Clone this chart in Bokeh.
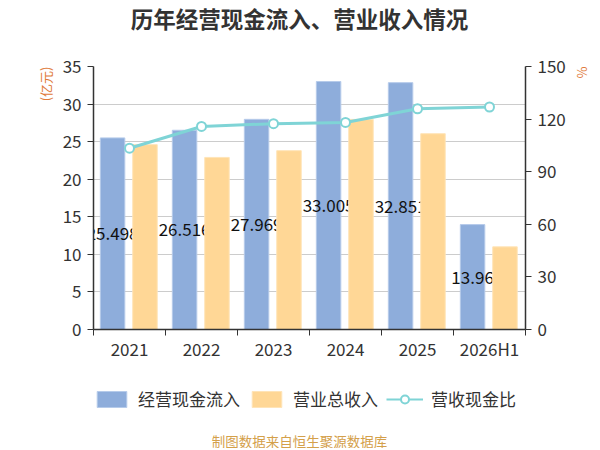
from bokeh.plotting import figure
from bokeh.models import (Range1d, LinearAxis, FixedTicker, Legend, LegendItem,
                          ColumnDataSource, Title, Label)
from bokeh.layouts import column
from bokeh.embed import file_html
from bokeh.resources import INLINE
from bokeh.core.properties import value

categories = ["2021", "2022", "2023", "2024", "2025", "2026H1"]
cash_inflow = [25.498, 26.516, 27.969, 33.005, 32.851, 13.96]
revenue = [24.6, 22.9, 23.8, 27.96, 26.06, 11.0]
ratio = [103.4, 115.8, 117.4, 118.1, 125.9, 126.9]
cash_labels = ["25.498", "26.516", "27.969", "33.005", "32.851", "13.96"]
left_ticks = [0, 5, 10, 15, 20, 25, 30, 35]
right_ticks = [0, 30, 60, 90, 120, 150]

FONT = "Noto Sans CJK SC"
BLUE = "#8eaddb"
ORANGE = "#ffd796"
CYAN = "#7fd4d6"
TXT = "#333333"

idx = list(range(len(categories)))
centers = [i + 0.5 for i in idx]
src = ColumnDataSource(dict(
    c=centers,
    xb=[c - 0.235 for c in centers],
    xo=[c + 0.215 for c in centers],
    cash=cash_inflow,
    half=[v / 2 for v in cash_inflow],
    rev=revenue,
    ratio=ratio,
    lab=cash_labels,
))


def strip(h):
    f = figure(width=598, height=h, output_backend="svg", toolbar_location=None,
               x_range=Range1d(100, 101), y_range=Range1d(100, 101),
               x_axis_location=None, y_axis_location=None,
               min_border_left=0, min_border_right=0, min_border_top=0,
               min_border_bottom=0)
    f.outline_line_color = None
    f.grid.grid_line_color = None
    return f


# title strip
p0 = strip(36)
p0.add_layout(Label(x=206, y=19, x_units="screen", y_units="screen",
                    text="历年经营现金流入、营业收入情况", text_align="center",
                    text_baseline="middle", text_font=FONT, text_font_size="22.5px",
                    text_font_style="bold", text_color=TXT))

# main chart
p = figure(width=598, height=334, output_backend="svg", toolbar_location=None,
           title=None,
           x_range=Range1d(0, len(categories)), y_range=Range1d(0, 35),
           min_border_left=93, min_border_right=66, min_border_top=30,
           min_border_bottom=41)
p.outline_line_color = None
p.extra_y_ranges = {"r": Range1d(0, 150)}

# x axis
p.xaxis.ticker = FixedTicker(ticks=centers, minor_ticks=list(range(len(categories) + 1)))
p.xaxis.major_label_overrides = {c: cat for c, cat in zip(centers, categories)}
p.xaxis.major_tick_out = 0
p.xaxis.major_tick_in = 0
p.xaxis.minor_tick_out = 6
p.xaxis.minor_tick_in = 0
p.xaxis.minor_tick_line_color = TXT
p.xaxis.major_label_standoff = 0
p.xgrid.grid_line_color = None

# left axis
p.yaxis.ticker = FixedTicker(ticks=left_ticks)
p.yaxis.minor_tick_line_color = None
p.yaxis.major_tick_out = 6
p.yaxis.major_tick_in = 0
p.yaxis.major_label_standoff = 6
p.ygrid.grid_line_color = "#cccccc"
p.ygrid.grid_line_width = 1

ra = LinearAxis(y_range_name="r", ticker=FixedTicker(ticks=right_ticks))
ra.minor_tick_line_color = None
ra.major_tick_out = 6
ra.major_tick_in = 0
ra.major_label_standoff = 6
p.add_layout(ra, "right")

for ax in [p.xaxis[0], p.yaxis[0], ra]:
    ax.axis_line_color = TXT
    ax.axis_line_width = 1.5
    ax.major_tick_line_color = TXT
    ax.major_label_text_font = FONT
    ax.major_label_text_font_size = "17px"
    ax.major_label_text_color = TXT

# bars
p.vbar(x="xb", top="cash", width=0.34, source=src, fill_color=BLUE,
       line_color="#b6cbea", line_width=1)
p.text(x="xb", y="half", text="lab", source=src, text_align="center",
       text_baseline="middle", text_font=value(FONT), text_font_size="17px",
       text_color="#111111")
p.vbar(x="xo", top="rev", width=0.34, source=src, fill_color=ORANGE,
       line_color="#ffe4b8", line_width=1)
p.line(x="c", y="ratio", source=src, y_range_name="r", line_color=CYAN,
       line_width=3)
p.scatter(x="c", y="ratio", source=src, y_range_name="r", size=9,
          fill_color="white", line_color=CYAN, line_width=2)

# unit labels
p.add_layout(Title(text="(亿元)", align="right", standoff=10, text_font=FONT,
                   text_font_size="13px", text_font_style="normal",
                   text_color="#e07a3a"), "left")
p.add_layout(Title(text="%", align="left", standoff=9, text_font=FONT,
                   text_font_size="13px", text_font_style="normal",
                   text_color="#e07a3a"), "right")

# legend strip
p2 = strip(58)
r1 = p2.vbar(x="xb", top="cash", width=0.34, source=src, fill_color=BLUE,
             line_color="#b6cbea")
r2 = p2.vbar(x="xo", top="rev", width=0.34, source=src, fill_color=ORANGE,
             line_color="#ffe4b8")
r3 = p2.line(x="c", y="ratio", source=src, line_color=CYAN, line_width=2)
r4 = p2.scatter(x="c", y="ratio", source=src, size=13, fill_color="white",
                line_color=CYAN, line_width=2)

legend = Legend(items=[
    LegendItem(label="经营现金流入", renderers=[r1]),
    LegendItem(label="营业总收入", renderers=[r2]),
    LegendItem(label="营收现金比", renderers=[r3, r4]),
], location=(0, 17), orientation="horizontal")
legend.glyph_width = 37
legend.glyph_height = 20
legend.label_standoff = 8
legend.spacing = 8
legend.padding = 0
legend.margin = 0
legend.background_fill_alpha = 0
legend.border_line_color = None
legend.label_text_font = FONT
legend.label_text_font_size = "17px"
legend.label_text_color = TXT
p2.add_layout(legend, "center")

# footer strip
p3 = strip(20)
p3.add_layout(Label(x=206, y=8, x_units="screen", y_units="screen",
                    text="制图数据来自恒生聚源数据库", text_align="center",
                    text_baseline="middle", text_font=FONT, text_font_size="13.5px",
                    text_color="#d4a04a"))

layout = column(p0, p, p2, p3, spacing=0)
open("out.html", "w").write(file_html(layout, INLINE))
